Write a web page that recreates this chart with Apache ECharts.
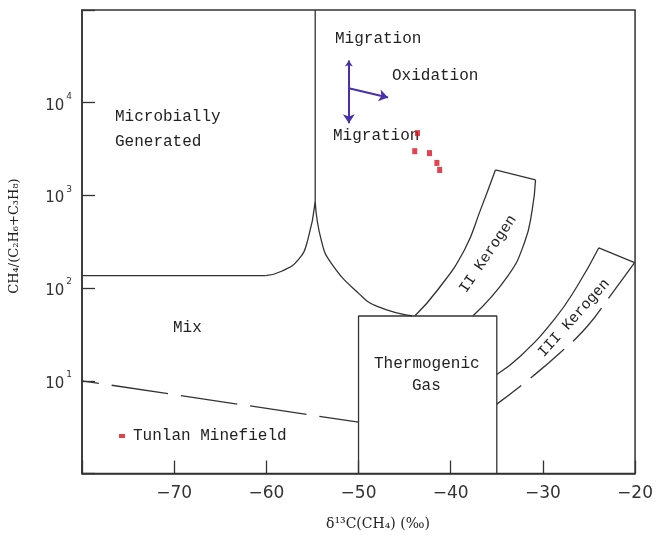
<!DOCTYPE html>
<html>
<head>
<meta charset="utf-8">
<script src="https://cdn.jsdelivr.net/npm/echarts@6/dist/echarts.min.js"></script>
<style>
html,body{margin:0;padding:0;background:#fff;overflow:hidden;width:656px;height:538px;}
#chart{width:656px;height:538px;position:absolute;left:0;top:0;}
</style>
</head>
<body>
<div id="chart"></div>
<script>
// ---- Data (delta13C of CH4 in per mil, CH4/(C2H6+C3H8) ratio) ----
const xTickValues = [-70, -60, -50, -40, -30, -20];
const yTickExponents = [1, 2, 3, 4];

const microbialVertical = [[-54.7, 100000], [-54.7, 850]];
const microbialLeftCurve = [[-54.7, 850], [-55.5, 333], [-56.5, 204], [-58.35, 152], [-60.1, 136]];
const microbialBottom = [[-60.1, 136], [-80, 136]];
const mixArc = [[-54.7, 850], [-54.05, 331], [-52.97, 186], [-49.84, 85], [-47.9, 63], [-44.2, 50]];
const thermogenicBox = [[-50, 1], [-50, 50], [-35, 50], [-35, 1]];
const kerogenIILeft = [[-43.9, 50], [-41.4, 96], [-38.5, 259], [-36.77, 698], [-35.15, 1880]];
const kerogenIITop = [[-35.15, 1880], [-30.8, 1468]];
const kerogenIIRight = [[-30.8, 1468], [-31.16, 698], [-32.0, 309], [-33.85, 133], [-37.6, 50]];
const kerogenIIILeft = [[-35, 11.7], [-32.45, 18.4], [-28.78, 45.7], [-26.3, 104], [-23.93, 272]];
const kerogenIIITop = [[-23.93, 272], [-20.05, 188]];
const kerogenIIIRight = [[-20.05, 188], [-22.75, 81], [-25.2, 38.5], [-28.1, 20.2], [-31.1, 11.2], [-35, 5.6]];
const mixLowerDashed = [[-80, 10], [-50, 3.58]];
const migrationArrow = [[-51.05, 28600], [-51.05, 6000]];
const oxidationArrow = [[-51.05, 14300], [-46.8, 11400]];
const tunlanSamples = [[-43.6, 4700], [-43.9, 3000], [-42.3, 2860], [-41.5, 2240], [-41.2, 1880]];

const LINE = '#333';
const TXT = '#222';
const MONO = 'Liberation Mono';

function lineSeries(data, opts) {
  opts = opts || {};
  return {
    type: 'line', data: data, showSymbol: false, symbol: 'none',
    smooth: opts.smooth || false, silent: true, z: 3,
    lineStyle: Object.assign({ color: LINE, width: 1.3, type: 'solid' }, opts.lineStyle || {}),
    animation: false
  };
}

const chart = echarts.init(document.getElementById('chart'), null, { renderer: 'canvas', width: 656, height: 538 });

const supMap = { 1: '1', 2: '2', 3: '3', 4: '4' };

const option = {
  animation: false,
  backgroundColor: '#fff',
  grid: { left: 82, right: 17, top: 10, bottom: 64.5, show: true, borderColor: LINE, borderWidth: 1.5, backgroundColor: 'transparent' },
  xAxis: {
    type: 'value', min: -80, max: -20, interval: 10,
    axisLine: { show: true, lineStyle: { color: LINE, width: 1.5 } },
    axisTick: { show: true, inside: true, length: 13, lineStyle: { color: LINE, width: 1.3 } },
    splitLine: { show: false },
    axisLabel: {
      margin: 12, color: '#333', fontFamily: 'DejaVu Sans', fontSize: 17,
      formatter: function (v) { return xTickValues.indexOf(v) >= 0 ? '\u2212' + Math.abs(v) : ''; }
    }
  },
  yAxis: {
    type: 'log', logBase: 10, min: 1, max: 100000,
    axisLine: { show: true, lineStyle: { color: LINE, width: 1.5 } },
    axisTick: { show: true, inside: true, length: 13, lineStyle: { color: LINE, width: 1.3 } },
    splitLine: { show: false },
    minorTick: { show: false },
    axisLabel: {
      margin: 10, color: '#333',
      formatter: function (v) {
        const e = Math.round(Math.log10(v));
        if (yTickExponents.indexOf(e) < 0) return '';
        return '{b|10}{s|' + supMap[e] + '}';
      },
      rich: {
        b: { fontFamily: 'DejaVu Sans', fontSize: 15, color: '#333', padding: [6, 0, 0, 0] },
        s: { fontFamily: 'DejaVu Sans', fontSize: 9, color: '#333', verticalAlign: 'top', padding: [0, 0, 0, 2] }
      }
    }
  },
  legend: {
    data: [{ name: 'Tunlan Minefield', icon: 'rect' }],
    left: 114, top: 423, itemWidth: 6, itemHeight: 4, itemGap: 4,
    textStyle: { fontFamily: MONO, fontSize: 16, color: TXT, padding: [0, 0, 0, 3] },
    selectedMode: false
  },
  series: [
    lineSeries(microbialVertical),
    lineSeries(microbialLeftCurve, { smooth: true }),
    lineSeries(microbialBottom),
    lineSeries(mixArc, { smooth: true }),
    lineSeries(thermogenicBox),
    lineSeries(kerogenIILeft, { smooth: true }),
    lineSeries(kerogenIITop),
    lineSeries(kerogenIIRight, { smooth: true }),
    lineSeries(kerogenIIILeft, { smooth: true }),
    lineSeries(kerogenIIITop),
    lineSeries(kerogenIIIRight, { smooth: true, lineStyle: { type: [44, 12], dashOffset: 0 } }),
    lineSeries(mixLowerDashed, { lineStyle: { type: [57, 13], dashOffset: 40 } }),
    {
      type: 'lines', coordinateSystem: 'cartesian2d', silent: true, z: 4,
      symbol: ['arrow', 'arrow'], symbolSize: [6, 9],
      lineStyle: { color: '#4a2fa8', width: 2, opacity: 1, curveness: 0 },
      data: [{ coords: migrationArrow }]
    },
    {
      type: 'lines', coordinateSystem: 'cartesian2d', silent: true, z: 4,
      symbol: ['none', 'arrow'], symbolSize: [6, 9],
      lineStyle: { color: '#4a2fa8', width: 2, opacity: 1, curveness: 0 },
      data: [{ coords: oxidationArrow }]
    },
    {
      name: 'Tunlan Minefield', type: 'scatter', data: tunlanSamples,
      symbol: 'rect', symbolSize: [5, 6], z: 5,
      itemStyle: { color: '#dc1420' }
    }
  ],
  graphic: [
    { type: 'text', left: 115, top: 109, style: { text: 'Microbially', font: '16px "' + MONO + '"', fill: TXT } },
    { type: 'text', left: 115, top: 134, style: { text: 'Generated', font: '16px "' + MONO + '"', fill: TXT } },
    { type: 'text', left: 335, top: 31, style: { text: 'Migration', font: '16px "' + MONO + '"', fill: TXT } },
    { type: 'text', left: 392, top: 68, style: { text: 'Oxidation', font: '16px "' + MONO + '"', fill: TXT } },
    { type: 'text', left: 333, top: 128, style: { text: 'Migration', font: '16px "' + MONO + '"', fill: TXT } },
    { type: 'text', left: 173, top: 320, style: { text: 'Mix', font: '16px "' + MONO + '"', fill: TXT } },
    { type: 'text', left: 374, top: 356, style: { text: 'Thermogenic', font: '16px "' + MONO + '"', fill: TXT } },
    { type: 'text', left: 412, top: 378, style: { text: 'Gas', font: '16px "' + MONO + '"', fill: TXT } },
    { type: 'text', x: 488, y: 254, rotation: 56 * Math.PI / 180,
      style: { text: 'II Kerogen', font: '15px "' + MONO + '"', fill: TXT, textAlign: 'center', textVerticalAlign: 'middle' } },
    { type: 'text', x: 574, y: 318, rotation: 48 * Math.PI / 180,
      style: { text: 'III Kerogen', font: '15px "' + MONO + '"', fill: TXT, textAlign: 'center', textVerticalAlign: 'middle' } },
    { type: 'text', x: 15, y: 236, rotation: Math.PI / 2,
      style: { text: 'CH₄/(C₂H₆+C₃H₈)', font: '13px "DejaVu Serif"', fill: TXT, textAlign: 'center', textVerticalAlign: 'middle' } },
    { type: 'text', x: 378, y: 524,
      style: { text: 'δ¹³C(CH₄) (‰)', font: '14px "DejaVu Serif"', fill: TXT, textAlign: 'center', textVerticalAlign: 'middle' } }
  ]
};

chart.setOption(option);
</script>
</body>
</html>
